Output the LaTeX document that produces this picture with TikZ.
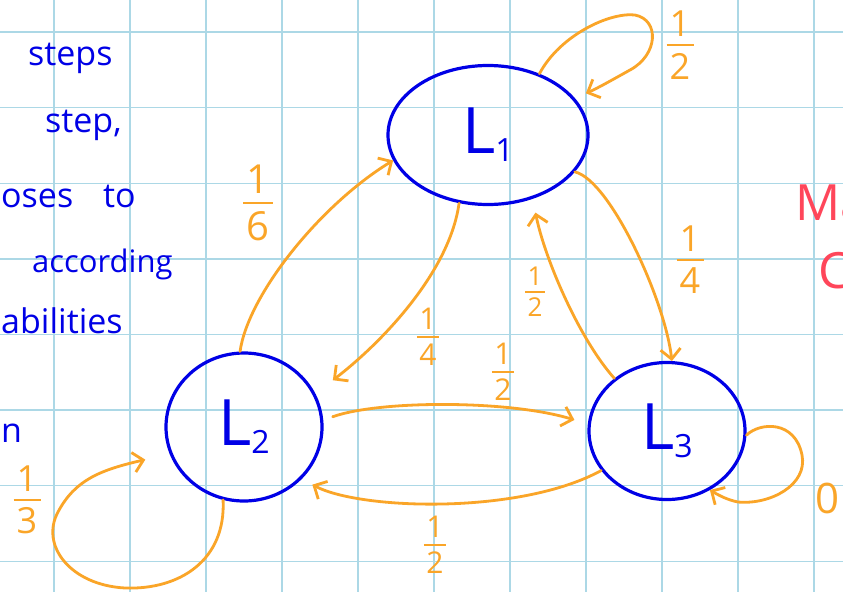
\documentclass[tikz,border=0pt]{standalone}
\usepackage{fontspec}
\setmainfont{Open Sans}
\usetikzlibrary{arrows.meta,shapes.geometric}
\definecolor{penblue}{RGB}{0,0,230}
\definecolor{penorange}{RGB}{250,165,40}
\definecolor{penred}{RGB}{255,70,90}
\definecolor{gridblue}{RGB}{172,216,230}
\newcommand{\prb}[2]{\vbox{\offinterlineskip\halign{\hfil##\hfil\cr#1\cr\noalign{\kern0.2em}\rule{0.75em}{2pt}\cr\noalign{\kern0.2em}#2\cr}}}
\newcommand{\stname}[1]{{\fontsize{64}{64}\selectfont L}\raisebox{-8pt}{\fontsize{32}{32}\selectfont #1}}

\begin{document}
\begin{tikzpicture}[x=1pt,y=-1pt,
  gridln/.style={gridblue, line width=1.4pt},
  state/.style={ellipse, draw=penblue, line width=3.2pt, inner sep=0pt, text=penblue},
  trans/.style={penorange, line width=2.8pt, line cap=round, -{Straight Barb[length=10pt,width=20pt]}},
  prob/.style={text=penorange, font=\fontsize{36}{36}\selectfont, inner sep=0pt},
  note/.style={text=penblue, font=\fontsize{34}{34}\selectfont, anchor=base west, inner sep=0pt},
  redword/.style={text=penred, font=\fontsize{50}{50}\selectfont, anchor=base west, inner sep=0pt}]
  \useasboundingbox (0,0) rectangle (843,592);
  \clip (0,0) rectangle (843,592);
  \fill[white] (0,0) rectangle (843,592);

  % Grid paper
  \foreach \i in {0,...,10} \draw[gridln] ({54+76*\i},0) -- ({54+76*\i},592);
  \foreach \j in {0,...,7} \draw[gridln] (0,{32+75.6*\j}) -- (843,{32+75.6*\j});

  % Notes on the left
  \node[note] (w1) at (28,65) {steps};
  \node[note] (w2) at (45,132) {step,};
  \node[note] (w3) at (1,207) {oses};
  \node[note] (w4) at (103,207) {to};
  \node[note, font=\fontsize{31}{31}\selectfont] (w5) at (32,272) {according};
  \node[note] (w6) at (1,333) {abilities};
  \node[note] (w7) at (1,442) {n};

  % Title on the right
  \node[redword] (r1) at (795,220) {Ma};
  \node[redword] (r2) at (818,288) {C};

  % States
  \node[state, minimum width=200pt, minimum height=139pt] (L1) at (488,135) {\stname{1}};
  \node[state, minimum width=156pt, minimum height=148pt] (L2) at (244,427) {\stname{2}};
  \node[state, minimum width=156pt, minimum height=137pt] (L3) at (667,431) {\stname{3}};

  % Self loops
  \draw[trans, shorten >=12pt] (L1.50) .. controls (560,35) and (610,12) .. (635,15)
    .. controls (660,20) and (658,55) .. (630,70)
    .. controls (612,80) and (598,88) .. (L1.23);
  \draw[trans, shorten >=25pt] (L2.254) .. controls (226,560) and (180,590) .. (125,588)
    .. controls (70,585) and (40,545) .. (58,512)
    .. controls (75,480) and (100,470) .. (L2.200);
  \draw[trans] (L3.357) .. controls (760,422) and (795,420) .. (802,455)
    .. controls (808,485) and (770,505) .. (738,502)
    .. controls (728,500) and (720,496) .. (L3.306);

  % Transitions between states
  \draw[trans] (L2.93) .. controls (248,295) and (320,205) .. (L1.195);
  \draw[trans, shorten >=22pt] (L1.247) .. controls (450,270) and (385,340) .. (L2.25);
  \draw[trans] (L1.337) .. controls (610,180) and (665,300) .. (L3.86);
  \draw[trans, shorten >=14pt] (L3.135) .. controls (580,340) and (545,260) .. (L1.305);
  \draw[trans, shorten <=10pt, shorten >=14pt] (L2.5) .. controls (380,400) and (510,400) .. (L3.175);
  \draw[trans, shorten >=12pt] (L3.211) .. controls (520,515) and (360,510) .. (L2.318);

  % Probabilities
  \node[prob] (q1) at (680,45) {\prb12};
  \node[prob, font=\fontsize{40}{40}\selectfont] (q2) at (258,203) {\prb16};
  \node[prob, font=\fontsize{30}{30}\selectfont] (q3) at (428,337) {\prb14};
  \node[prob, font=\fontsize{26}{26}\selectfont] (q4) at (535,292) {\prb12};
  \node[prob, font=\fontsize{30}{30}\selectfont] (q5) at (503,372) {\prb12};
  \node[prob] (q6) at (690,260) {\prb14};
  \node[prob, font=\fontsize{30}{30}\selectfont] (q7) at (435,545) {\prb12};
  \node[prob] (q8) at (27,500) {\prb13};
  \node[prob, font=\fontsize{42}{42}\selectfont] (q9) at (827,498) {0};
\end{tikzpicture}
\end{document}
